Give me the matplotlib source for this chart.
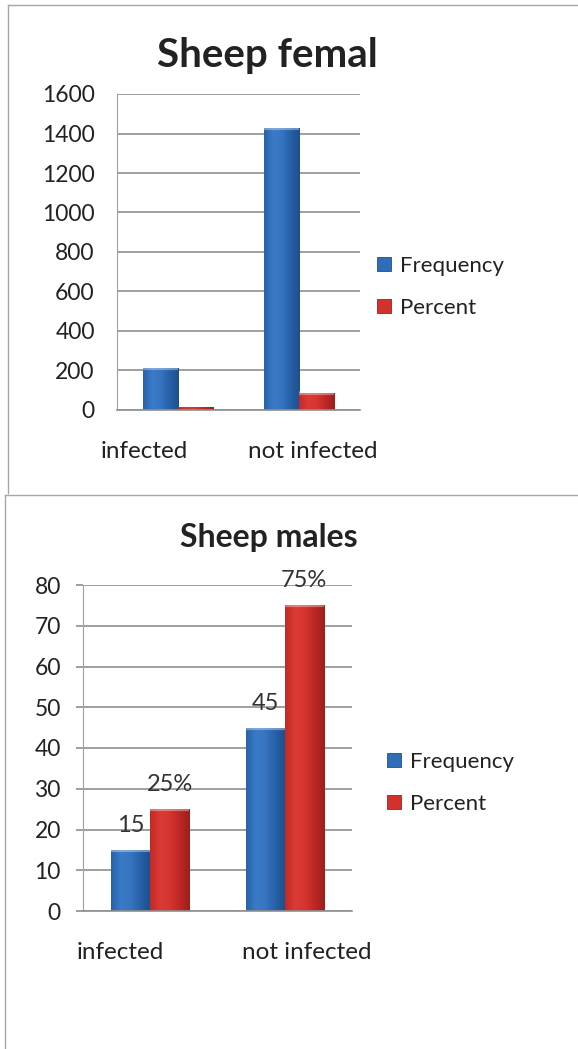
import matplotlib
matplotlib.use("Agg")
import matplotlib.pyplot as plt
from matplotlib.lines import Line2D
from matplotlib.transforms import ScaledTranslation
from matplotlib.colors import LinearSegmentedColormap
import numpy as np

plt.rcParams['font.family'] = ['Lato', 'DejaVu Sans']

categories = ["infected", "not infected"]
female_frequency = [213, 1427]
female_percent = [13, 87]
male_frequency = [15, 45]
male_percent = [25, 75]
male_freq_labels = ["15", "45"]
male_pct_labels = ["25%", "75%"]
series_names = ["Frequency", "Percent"]

BLUE = "#2f6db8"
RED = "#d3312c"
BLUE_EDGE = "#1f4f8c"
RED_EDGE = "#9e1f1c"
GRID = "#8f8f8f"
TXT = "#222222"

blue_cmap = LinearSegmentedColormap.from_list("b", ["#2a62a8", "#3a7bc8", "#3574c0", "#2660a6", "#1d4f8f"])
red_cmap = LinearSegmentedColormap.from_list("r", ["#c22a26", "#dc3a34", "#d6342f", "#bb2824", "#9c1f1c"])

W, H = 578, 1049
fig = plt.figure(figsize=(W / 100, H / 100), dpi=100)

def fx(px):
    return px / W

def fy(py):
    return 1 - py / H

# chart frames
fig.add_artist(Line2D([fx(8), fx(8)], [fy(5), fy(493)], color="#a6a6a6", lw=1.0))
fig.add_artist(Line2D([fx(8), 1.0], [fy(5), fy(5)], color="#a6a6a6", lw=1.0))
fig.add_artist(Line2D([fx(5), fx(5)], [fy(495), 0.0], color="#a6a6a6", lw=1.0))
fig.add_artist(Line2D([fx(5), 1.0], [fy(495), fy(495)], color="#a6a6a6", lw=1.0))

bw = 0.29
x = np.arange(len(categories))
grad = np.linspace(0, 1, 64).reshape(1, -1)


def shade(ax, bars, cmap):
    ymax = ax.get_ylim()[1]
    for b in bars:
        x0, y0 = b.get_x(), b.get_y()
        w, h = b.get_width(), b.get_height()
        im = ax.imshow(grad, cmap=cmap, extent=[x0, x0 + w, y0, y0 + h],
                       aspect="auto", zorder=b.get_zorder() + 0.1, interpolation="bicubic")
        im.set_clip_path(b)
        if h / ymax > 0.03:
            ax.add_artist(Line2D([x0, x0 + w], [y0 + h, y0 + h], color="white", alpha=0.35,
                                 lw=3, solid_capstyle="butt", zorder=b.get_zorder() + 0.2))


def style_axes(ax, ymax, step, tick_len, pad, label_offsets):
    ax.set_xlim(-0.5, len(categories) - 0.5)
    ax.set_ylim(0, ymax)
    ax.set_yticks(np.arange(0, ymax + step / 2, step))
    ax.yaxis.grid(True, color=GRID, lw=1.2)
    ax.set_axisbelow(True)
    for s in ["top", "right"]:
        ax.spines[s].set_visible(False)
    ax.spines["left"].set_color("#a0a0a0")
    ax.spines["bottom"].set_color(GRID)
    ax.spines["bottom"].set_linewidth(1.2)
    ax.tick_params(axis="y", length=tick_len, width=1.2, color=GRID, pad=pad,
                   labelsize=16.5, labelcolor=TXT)
    ax.tick_params(axis="x", length=0, pad=22, labelsize=17.5, labelcolor=TXT)
    ax.set_xticks(x)
    ax.set_xticklabels(categories)
    for lab, dx in zip(ax.get_xticklabels(), label_offsets):
        lab.set_transform(lab.get_transform() + ScaledTranslation(dx / 100, 0, fig.dpi_scale_trans))


def add_legend(ax, anchor):
    fig.legend(handles=ax.get_legend_handles_labels()[0], labels=series_names,
               loc="center left", bbox_to_anchor=anchor, frameon=False,
               fontsize=16, handlelength=0.62, handleheight=0.62, handletextpad=0.4,
               labelspacing=1.0, borderpad=0, borderaxespad=0, labelcolor=TXT)


# --- top chart ---
ax1 = fig.add_axes([fx(117), fy(410), fx(360) - fx(117), fy(94) - fy(410)])
fb1 = ax1.bar(x - bw / 2, female_frequency, bw, color=BLUE, edgecolor=BLUE_EDGE, lw=0.6, label=series_names[0])
fb2 = ax1.bar(x + bw / 2, female_percent, bw, color=RED, edgecolor=RED_EDGE, lw=0.6, label=series_names[1])
style_axes(ax1, 1600, 200, 0, 16, [-34, 14])
shade(ax1, fb1, blue_cmap)
shade(ax1, fb2, red_cmap)
fig.text(fx(267), fy(55), "Sheep femal", ha="center", va="center", fontsize=29,
         fontweight="bold", color=TXT)
add_legend(ax1, (fx(377), fy(287)))

# --- bottom chart ---
ax2 = fig.add_axes([fx(83), fy(911), fx(352) - fx(83), fy(585) - fy(911)])
b1 = ax2.bar(x - bw / 2, male_frequency, bw, color=BLUE, edgecolor=BLUE_EDGE, lw=0.6, label=series_names[0])
b2 = ax2.bar(x + bw / 2, male_percent, bw, color=RED, edgecolor=RED_EDGE, lw=0.6, label=series_names[1])
style_axes(ax2, 80, 10, 5, 11, [-30, 22])
shade(ax2, b1, blue_cmap)
shade(ax2, b2, red_cmap)
ax2.bar_label(b1, labels=male_freq_labels, padding=10, fontsize=17, color="#333333")
ax2.bar_label(b2, labels=male_pct_labels, padding=10, fontsize=17, color="#333333")
fig.text(fx(269), fy(537), "Sheep males", ha="center", va="center", fontsize=23,
         fontweight="bold", color=TXT)
add_legend(ax2, (fx(387), fy(783)))

fig.savefig("out.png", dpi=100)
